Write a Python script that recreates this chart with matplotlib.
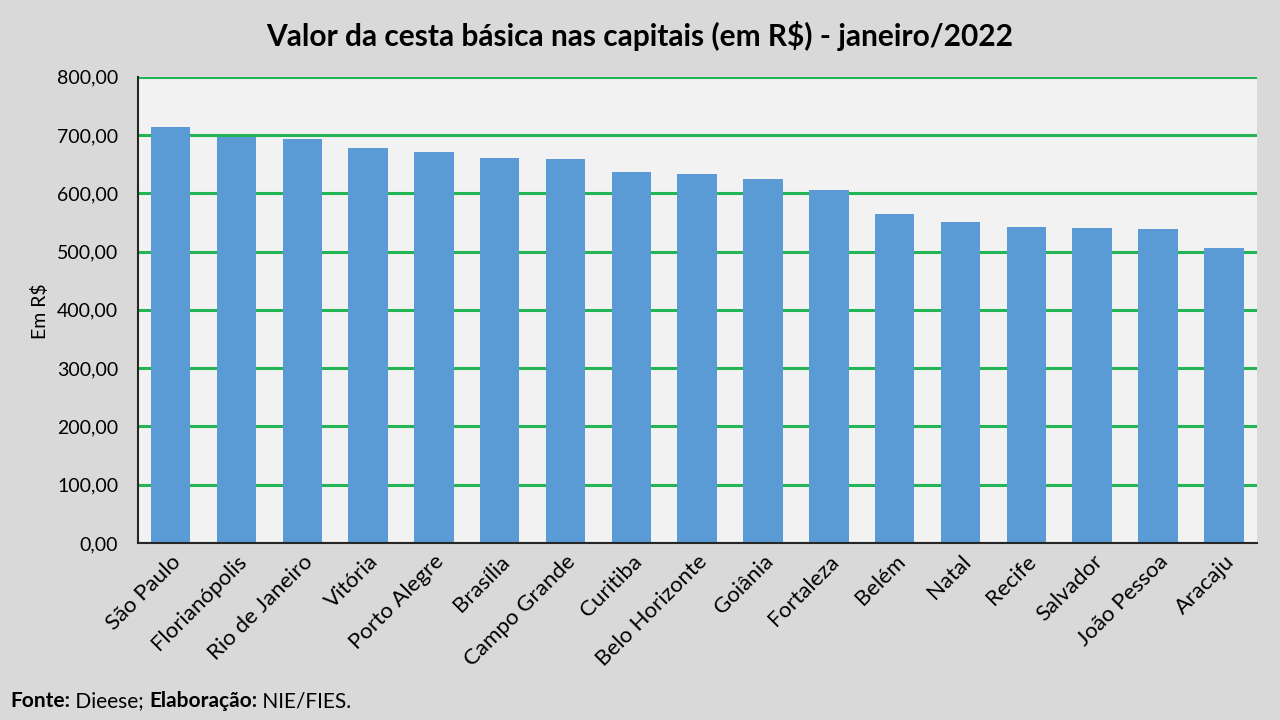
import matplotlib
matplotlib.use("Agg")
import matplotlib.pyplot as plt
from matplotlib.ticker import FuncFormatter

plt.rcParams['font.family'] = ['Lato', 'DejaVu Sans']

capitais = ['São Paulo', 'Florianópolis', 'Rio de Janeiro', 'Vitória', 'Porto Alegre',
            'Brasília', 'Campo Grande', 'Curitiba', 'Belo Horizonte', 'Goiânia',
            'Fortaleza', 'Belém', 'Natal', 'Recife', 'Salvador', 'João Pessoa', 'Aracaju']
valores = [713.86, 695.72, 692.65, 677.19, 671.39,
           660.09, 659.64, 636.36, 632.95, 624.76,
           605.81, 563.66, 550.64, 542.43, 540.32, 538.40, 506.62]
y_ticks = [0, 100, 200, 300, 400, 500, 600, 700, 800]

fig = plt.figure(figsize=(12.8, 7.2), dpi=100, facecolor='#d9d9d9')
ax = fig.add_axes([0.1076, 0.2458, 0.8742, 0.6477])
ax.set_facecolor('#f2f2f2')

x = range(len(capitais))
ax.bar(x, valores, width=0.6, color='#5b9bd5', zorder=3)

ax.set_xlim(-0.5, len(capitais) - 0.5)
ax.set_ylim(0, 800)
ax.set_yticks(y_ticks)
ax.yaxis.set_major_formatter(FuncFormatter(lambda v, p: f"{v:.2f}".replace('.', ',')))
ax.grid(axis='y', color='#22b455', linewidth=2.2, zorder=1)
ax.set_axisbelow(True)

ax.set_xticks(list(x))
ax.set_xticklabels(capitais, rotation=45, ha='right', rotation_mode='anchor', fontsize=16)
ax.tick_params(axis='x', length=0, pad=6)
ax.tick_params(axis='y', length=0, pad=14, labelsize=14)

for s in ['top', 'right']:
    ax.spines[s].set_visible(False)
for s in ['left', 'bottom']:
    ax.spines[s].set_color('#262626')
    ax.spines[s].set_linewidth(1.5)
    ax.spines[s].set_zorder(4)

fig.text(0.5, 0.95, 'Valor da cesta básica nas capitais (em R$) - janeiro/2022',
         ha='center', va='center', fontsize=21.5, fontweight='bold')
fig.text(0.031, 0.568, 'Em R$', rotation=90, ha='center', va='center', fontsize=14)

# rodapé com partes em negrito
t = fig.text(0.008, 0.012, 'Fonte:', fontsize=15, fontweight='bold', va='bottom')
partes = [(' Dieese; ', 'normal'), ('Elaboração:', 'bold'), (' NIE/FIES.', 'normal')]
for txt, w in partes:
    t = fig.add_artist(plt.Annotation(txt, xy=(1, 0), xycoords=t, va='bottom',
                                      fontsize=15, fontweight=w))

fig.savefig('out.png', dpi=100, facecolor=fig.get_facecolor())
